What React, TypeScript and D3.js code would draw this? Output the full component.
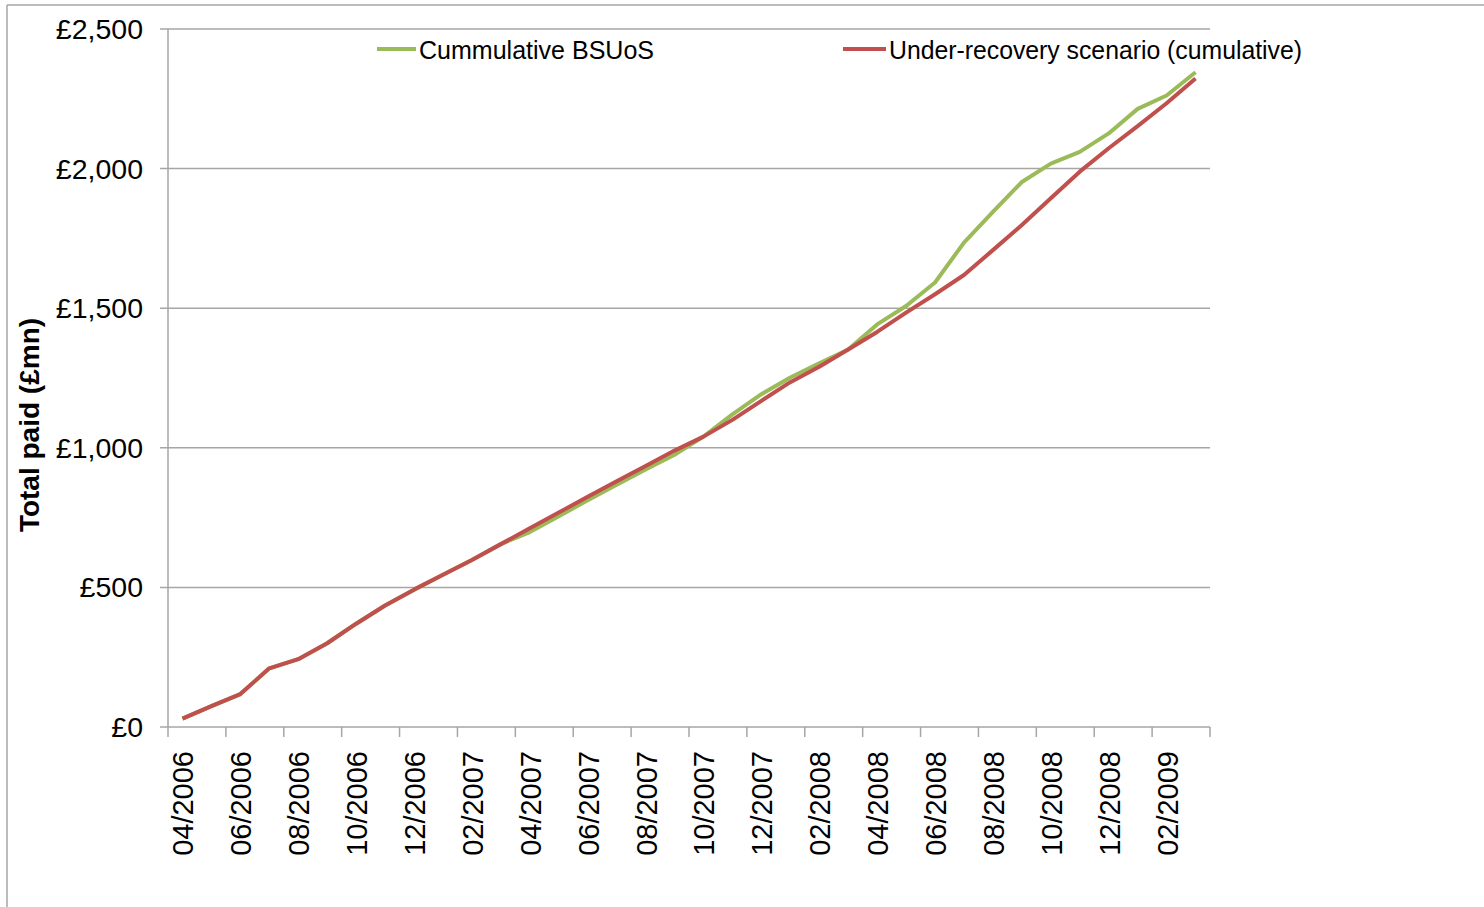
import React from "react";
import * as d3 from "d3";

const months: string[] = [
  "04/2006","05/2006","06/2006","07/2006","08/2006","09/2006","10/2006","11/2006","12/2006",
  "01/2007","02/2007","03/2007","04/2007","05/2007","06/2007","07/2007","08/2007","09/2007",
  "10/2007","11/2007","12/2007","01/2008","02/2008","03/2008","04/2008","05/2008","06/2008",
  "07/2008","08/2008","09/2008","10/2008","11/2008","12/2008","01/2009","02/2009","03/2009",
];

const cumulativeBSUoS: number[] = [
  30, 75, 118, 210, 243, 300, 370, 435, 492, 545, 598, 655,
  698, 755, 812, 868, 922, 975, 1040, 1120, 1192, 1252, 1303, 1352,
  1442, 1508, 1592, 1735, 1845, 1952, 2018, 2060, 2126, 2214, 2262, 2345,
];

const underRecovery: number[] = [
  30, 75, 118, 210, 243, 300, 370, 435, 492, 545, 598, 655,
  712, 768, 825, 880, 935, 990, 1040, 1100, 1168, 1235, 1290, 1352,
  1415, 1484, 1550, 1619, 1708, 1798, 1894, 1989, 2073, 2152, 2234, 2323,
];

const yTicks: number[] = [0, 500, 1000, 1500, 2000, 2500];
const yTickLabels: string[] = ["£0", "£500", "£1,000", "£1,500", "£2,000", "£2,500"];

const seriesNames: string[] = ["Cummulative BSUoS", "Under-recovery scenario (cumulative)"];
const seriesColors: string[] = ["#9BBB59", "#C0504D"];

const W = 1484;
const H = 907;
const left = 168;
const right = 1210;
const top = 29;
const bottom = 727;
const font = "'Liberation Sans', Arial, sans-serif";
const grid = "#a6a6a6";

export default function App() {
  const x = d3.scaleBand<string>().domain(months).range([left, right]).padding(0);
  const y = d3.scaleLinear().domain([0, 2500]).range([bottom, top]);
  const cx = (m: string) => (x(m) as number) + x.bandwidth() / 2;

  const line = d3
    .line<number>()
    .x((_, i) => cx(months[i]))
    .y((d) => y(d));

  const tickBoundaries: number[] = [];
  for (let i = 0; i <= months.length; i += 2) tickBoundaries.push(left + i * x.bandwidth());

  return (
    <div style={{ position: "fixed", left: 0, top: 0, width: W, height: H, background: "#fff" }}>
      <svg width={W} height={H} style={{ display: "block" }}>
        <rect x={0} y={0} width={W} height={H} fill="#fff" />
        {/* outer frame */}
        <line x1={7} y1={5} x2={W} y2={5} stroke={grid} strokeWidth={1.5} />
        <line x1={7} y1={5} x2={7} y2={H} stroke={grid} strokeWidth={1.5} />

        {/* gridlines and y labels */}
        {yTicks.map((t, i) => (
          <g key={t}>
            <line x1={160} x2={right} y1={y(t)} y2={y(t)} stroke={grid} strokeWidth={1.5} />
            <text
              x={143}
              y={y(t)}
              textAnchor="end"
              dominantBaseline="central"
              fontFamily={font}
              fontSize={28.5}
              fill="#000"
            >
              {yTickLabels[i]}
            </text>
          </g>
        ))}
        {/* y axis line */}
        <line x1={left} x2={left} y1={top} y2={bottom} stroke={grid} strokeWidth={1.5} />
        {/* x axis ticks */}
        {tickBoundaries.map((bx, i) => (
          <line key={i} x1={bx} x2={bx} y1={bottom} y2={bottom + 10} stroke={grid} strokeWidth={1.5} />
        ))}
        {/* x labels */}
        {months.map((m, i) =>
          i % 2 === 0 ? (
            <text
              key={m}
              transform={`translate(${cx(m) + 1},751) rotate(-90)`}
              textAnchor="end"
              dominantBaseline="central"
              fontFamily={font}
              fontSize={29}
              fill="#000"
            >
              {m}
            </text>
          ) : null
        )}

        {/* y axis title */}
        <text
          transform={`translate(29,425) rotate(-90)`}
          textAnchor="middle"
          dominantBaseline="central"
          fontFamily={font}
          fontWeight="bold"
          fontSize={28}
          fill="#000"
        >
          Total paid (£mn)
        </text>

        {/* series */}
        <path d={line(cumulativeBSUoS) || ""} fill="none" stroke={seriesColors[0]} strokeWidth={4} strokeLinejoin="round" />
        <path d={line(underRecovery) || ""} fill="none" stroke={seriesColors[1]} strokeWidth={4} strokeLinejoin="round" />

        {/* legend */}
        <line x1={377} x2={416} y1={49} y2={49} stroke={seriesColors[0]} strokeWidth={4} />
        <text x={419} y={50} dominantBaseline="central" fontFamily={font} fontSize={25} textLength={235} lengthAdjust="spacingAndGlyphs" fill="#000">
          {seriesNames[0]}
        </text>
        <line x1={843} x2={886} y1={49} y2={49} stroke={seriesColors[1]} strokeWidth={4} />
        <text x={889} y={50} dominantBaseline="central" fontFamily={font} fontSize={25} textLength={413} lengthAdjust="spacingAndGlyphs" fill="#000">
          {seriesNames[1]}
        </text>
      </svg>
    </div>
  );
}
